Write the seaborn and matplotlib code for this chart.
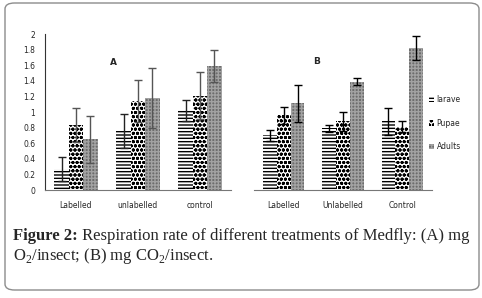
import numpy as np
import pandas as pd
import matplotlib
matplotlib.use("Agg")
import matplotlib.pyplot as plt
from matplotlib.patches import FancyBboxPatch, Patch
from matplotlib.ticker import FixedLocator
import seaborn as sns

# ---- data ----
stages = ["larave", "Pupae", "Adults"]
treat_a = ["Labelled", "unlabelled", "control"]
treat_b = ["Labelled", "Unlabelled", "Control"]

# (A) mg O2/insect
o2_larave = [0.27, 0.76, 1.02]
o2_larave_err = [0.15, 0.22, 0.14]
o2_pupae = [0.83, 1.14, 1.21]
o2_pupae_err = [0.22, 0.27, 0.30]
o2_adults = [0.65, 1.18, 1.59]
o2_adults_err = [0.30, 0.38, 0.20]

# (B) mg CO2/insect
co2_larave = [0.70, 0.79, 0.88]
co2_larave_err = [0.07, 0.04, 0.17]
co2_pupae = [0.96, 0.88, 0.81]
co2_pupae_err = [0.11, 0.12, 0.07]
co2_adults = [1.11, 1.39, 1.82]
co2_adults_err = [0.24, 0.04, 0.15]

yticks = [0, 0.2, 0.4, 0.6, 0.8, 1, 1.2, 1.4, 1.6, 1.8, 2]

STYLE = {
    "larave": dict(facecolor="white", edgecolor="black", hatch="-----"),
    "Pupae": dict(facecolor="white", edgecolor="black", hatch="oooo"),
    "Adults": dict(facecolor="#6c6c6c", edgecolor="#a2a2a2", hatch="+++++"),
}

sns.set_style("white")
plt.rcParams["font.family"] = ["DejaVu Sans"]
plt.rcParams["hatch.linewidth"] = 1.0
plt.rcParams["mathtext.fontset"] = "custom"
plt.rcParams["mathtext.rm"] = "Liberation Serif"


def long_table(cats, series):
    rows = []
    for stage, vals in zip(stages, series):
        for c, v in zip(cats, vals):
            rows.append({"treatment": c, "stage": stage, "value": v})
    return pd.DataFrame(rows)


def draw_panel(ax, cats, series, errs, err_colors, letter, letter_xy):
    df = long_table(cats, series)
    sns.barplot(data=df, x="treatment", y="value", hue="stage",
                hue_order=stages, order=cats, errorbar=None,
                width=0.7, legend=False, ax=ax)
    for cont, stage, err, ec in zip(ax.containers, stages, errs, err_colors):
        xs = []
        for bar in cont:
            bar.set_facecolor(STYLE[stage]["facecolor"])
            bar.set_edgecolor(STYLE[stage]["edgecolor"])
            bar.set_hatch(STYLE[stage]["hatch"])
            bar.set_linewidth(0)
            xs.append(bar.get_x() + bar.get_width() / 2)
        ys = [b.get_height() for b in cont]
        ax.errorbar(xs, ys, yerr=err, fmt="none", ecolor=ec,
                    elinewidth=1.0, capsize=3.2, capthick=1.0, zorder=5)
    ax.set_xlim(-0.5, 2.5)
    ax.set_ylim(0, 2)
    ax.set_xlabel("")
    ax.set_ylabel("")
    ax.xaxis.set_major_locator(FixedLocator([0, 1, 2]))
    ax.xaxis.set_minor_locator(FixedLocator([-0.5, 0.5, 1.5, 2.5]))
    ax.set_xticklabels(cats)
    ax.tick_params(axis="x", which="major", length=0, pad=8, labelsize=5.5)
    ax.tick_params(axis="x", which="minor", length=3, width=0.8,
                   color="#666666", direction="out")
    for s in ("top", "right"):
        ax.spines[s].set_visible(False)
    ax.spines["bottom"].set_color("#777777")
    ax.spines["bottom"].set_linewidth(0.8)
    ax.text(letter_xy[0], letter_xy[1], letter, fontsize=6.5,
            fontweight="bold", ha="center", va="center")


fig = plt.figure(figsize=(4.82, 2.98), dpi=100)

ax_a = fig.add_axes([45 / 482, 108 / 298, 186 / 482, 156 / 298])
ax_b = fig.add_axes([254 / 482, 108 / 298, 178 / 482, 156 / 298])

draw_panel(ax_a, treat_a, [o2_larave, o2_pupae, o2_adults],
           [o2_larave_err, o2_pupae_err, o2_adults_err],
           ["#222222", "#555555", "#555555"], "A", (0.6, 1.64))
ax_a.set_yticks(yticks)
ax_a.set_yticklabels([f"{t:g}" for t in yticks])
ax_a.tick_params(axis="y", length=3, width=0.8, color="#333333",
                 direction="out", labelsize=5.5, pad=4)
ax_a.spines["left"].set_color("#333333")
ax_a.spines["left"].set_linewidth(0.8)

draw_panel(ax_b, treat_b, [co2_larave, co2_pupae, co2_adults],
           [co2_larave_err, co2_pupae_err, co2_adults_err],
           ["black", "black", "black"], "B", (0.55, 1.65))
ax_b.spines["left"].set_visible(False)
ax_b.set_yticks([])

handles = [Patch(facecolor=STYLE[s]["facecolor"], edgecolor=STYLE[s]["edgecolor"],
                 hatch=STYLE[s]["hatch"], linewidth=0, label=s) for s in stages]
fig.legend(handles=handles, loc="upper left", bbox_to_anchor=(426 / 482, 1 - 92 / 298),
           frameon=False, fontsize=5.5, handlelength=0.7, handleheight=0.7,
           handletextpad=0.3, labelspacing=1.9, borderaxespad=0)

# caption
cap1 = fig.text(13 / 482, 1 - 240 / 298, "Figure 2:", fontsize=12,
                family="Liberation Serif", fontweight="bold", va="baseline")
ax_a.annotate(" Respiration rate of different treatments of Medfly: (A) mg",
              xy=(1, 0), xycoords=cap1, va="bottom", ha="left",
              fontsize=12, family="Liberation Serif", annotation_clip=False)
fig.text(13 / 482, 1 - 260 / 298,
         r"O$_\mathrm{2}$/insect; (B) mg CO$_\mathrm{2}$/insect.",
         fontsize=12, family="Liberation Serif", va="baseline")

frame = FancyBboxPatch((5 / 482, 8 / 298), 474 / 482, 287 / 298,
                       boxstyle="round,pad=0,rounding_size=0.02",
                       transform=fig.transFigure, facecolor="none",
                       edgecolor="#8c8c8c", linewidth=1.0)
fig.patches.append(frame)

fig.savefig("out.png", dpi=100, facecolor="white")
